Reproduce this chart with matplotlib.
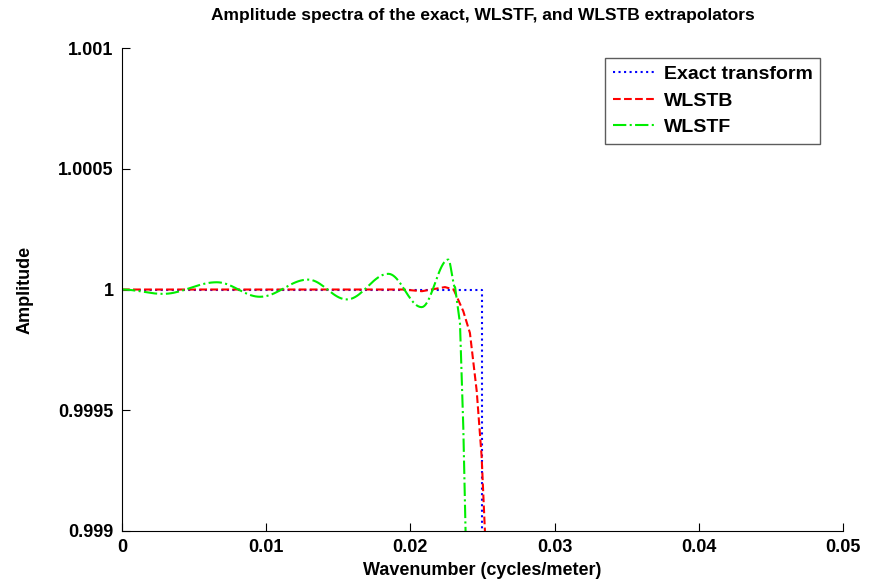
import matplotlib
matplotlib.use("Agg")
import matplotlib.pyplot as plt
import numpy as np

plt.rcParams['font.family'] = ['Liberation Sans', 'DejaVu Sans']
plt.rcParams['font.weight'] = 'bold'

exact_x = [0.0, 0.025, 0.025]
exact_y = [1.0, 1.0, 0.998]

wlstb_x = [0.0, 0.005, 0.010, 0.015, 0.0195, 0.0208, 0.0224, 0.0230, 0.02367, 0.02413, 0.0246, 0.02494, 0.02517, 0.0253]
wlstb_y = [1.0, 1.0, 1.0, 1.0, 1.0, 0.999993, 1.00001, 1.0, 0.99991, 0.99982, 0.99958, 0.99931, 0.999, 0.9988]

wlstf_x = [0.0, 0.00284, 0.00657, 0.00957, 0.0129, 0.0156, 0.01847, 0.02078, 0.02263, 0.0231, 0.02344, 0.02367, 0.02383, 0.0239]
wlstf_y = [1.0, 0.999982, 1.00003, 0.99997, 1.000041, 0.999959, 1.000065, 0.999927, 1.000124, 1.00001, 0.99986, 0.99943, 0.999, 0.9988]

# smooth the ripple through the sampled extrema
def smooth(xs, ys):
    xs = np.asarray(xs); ys = np.asarray(ys)
    out_x, out_y = [], []
    for i in range(len(xs) - 1):
        t = np.linspace(0, 1, 20, endpoint=False)
        w = (1 - np.cos(np.pi * t)) / 2
        out_x.extend(xs[i] + (xs[i+1] - xs[i]) * t)
        out_y.extend(ys[i] + (ys[i+1] - ys[i]) * w)
    out_x.append(xs[-1]); out_y.append(ys[-1])
    return out_x, out_y

fx, fy = smooth(wlstf_x[:10], wlstf_y[:10])
fx += wlstf_x[10:]; fy += wlstf_y[10:]

fig = plt.figure(figsize=(8.69, 5.86), dpi=100)
ax = fig.add_axes([0.1404, 0.0939, 0.8296, 0.8241])

ax.plot(exact_x, exact_y, ':', color='blue', lw=1.5, label='Exact transform')
ax.plot(wlstb_x, wlstb_y, '--', color='red', lw=1.5, label='WLSTB')
ax.plot(fx, fy, '-.', color='#00ee00', lw=1.5, label='WLSTF')

ax.set_xlim(0, 0.05)
ax.set_ylim(0.999, 1.001)
ax.set_xticks([0, 0.01, 0.02, 0.03, 0.04, 0.05])
ax.set_xticklabels(['0', '0.01', '0.02', '0.03', '0.04', '0.05'])
ax.set_yticks([0.999, 0.9995, 1.0, 1.0005, 1.001])
ax.set_yticklabels(['0.999', '0.9995', '1', '1.0005', '1.001'])
ax.spines['top'].set_visible(False)
ax.spines['right'].set_visible(False)
ax.tick_params(labelsize=13, direction='in', length=6, pad=6)
for lab in ax.get_xticklabels() + ax.get_yticklabels():
    lab.set_fontweight('bold')
ax.set_xlabel('Wavenumber (cycles/meter)', fontsize=13, fontweight='bold', labelpad=4)
ax.set_ylabel('Amplitude', fontsize=13, fontweight='bold', labelpad=18)
ax.set_title('Amplitude spectra of the exact, WLSTF, and WLSTB extrapolators', fontsize=12.5, fontweight='bold', pad=20)

leg = ax.legend(loc='upper right', fontsize=14, fancybox=False, edgecolor='#333333',
                handlelength=2.2, handletextpad=0.4,
                borderpad=0.4, labelspacing=0.45, bbox_to_anchor=(0.982, 1.0))
leg.get_frame().set_linewidth(1.0)
for t in leg.get_texts():
    t.set_fontweight('bold')

fig.savefig('out.png', dpi=100)
